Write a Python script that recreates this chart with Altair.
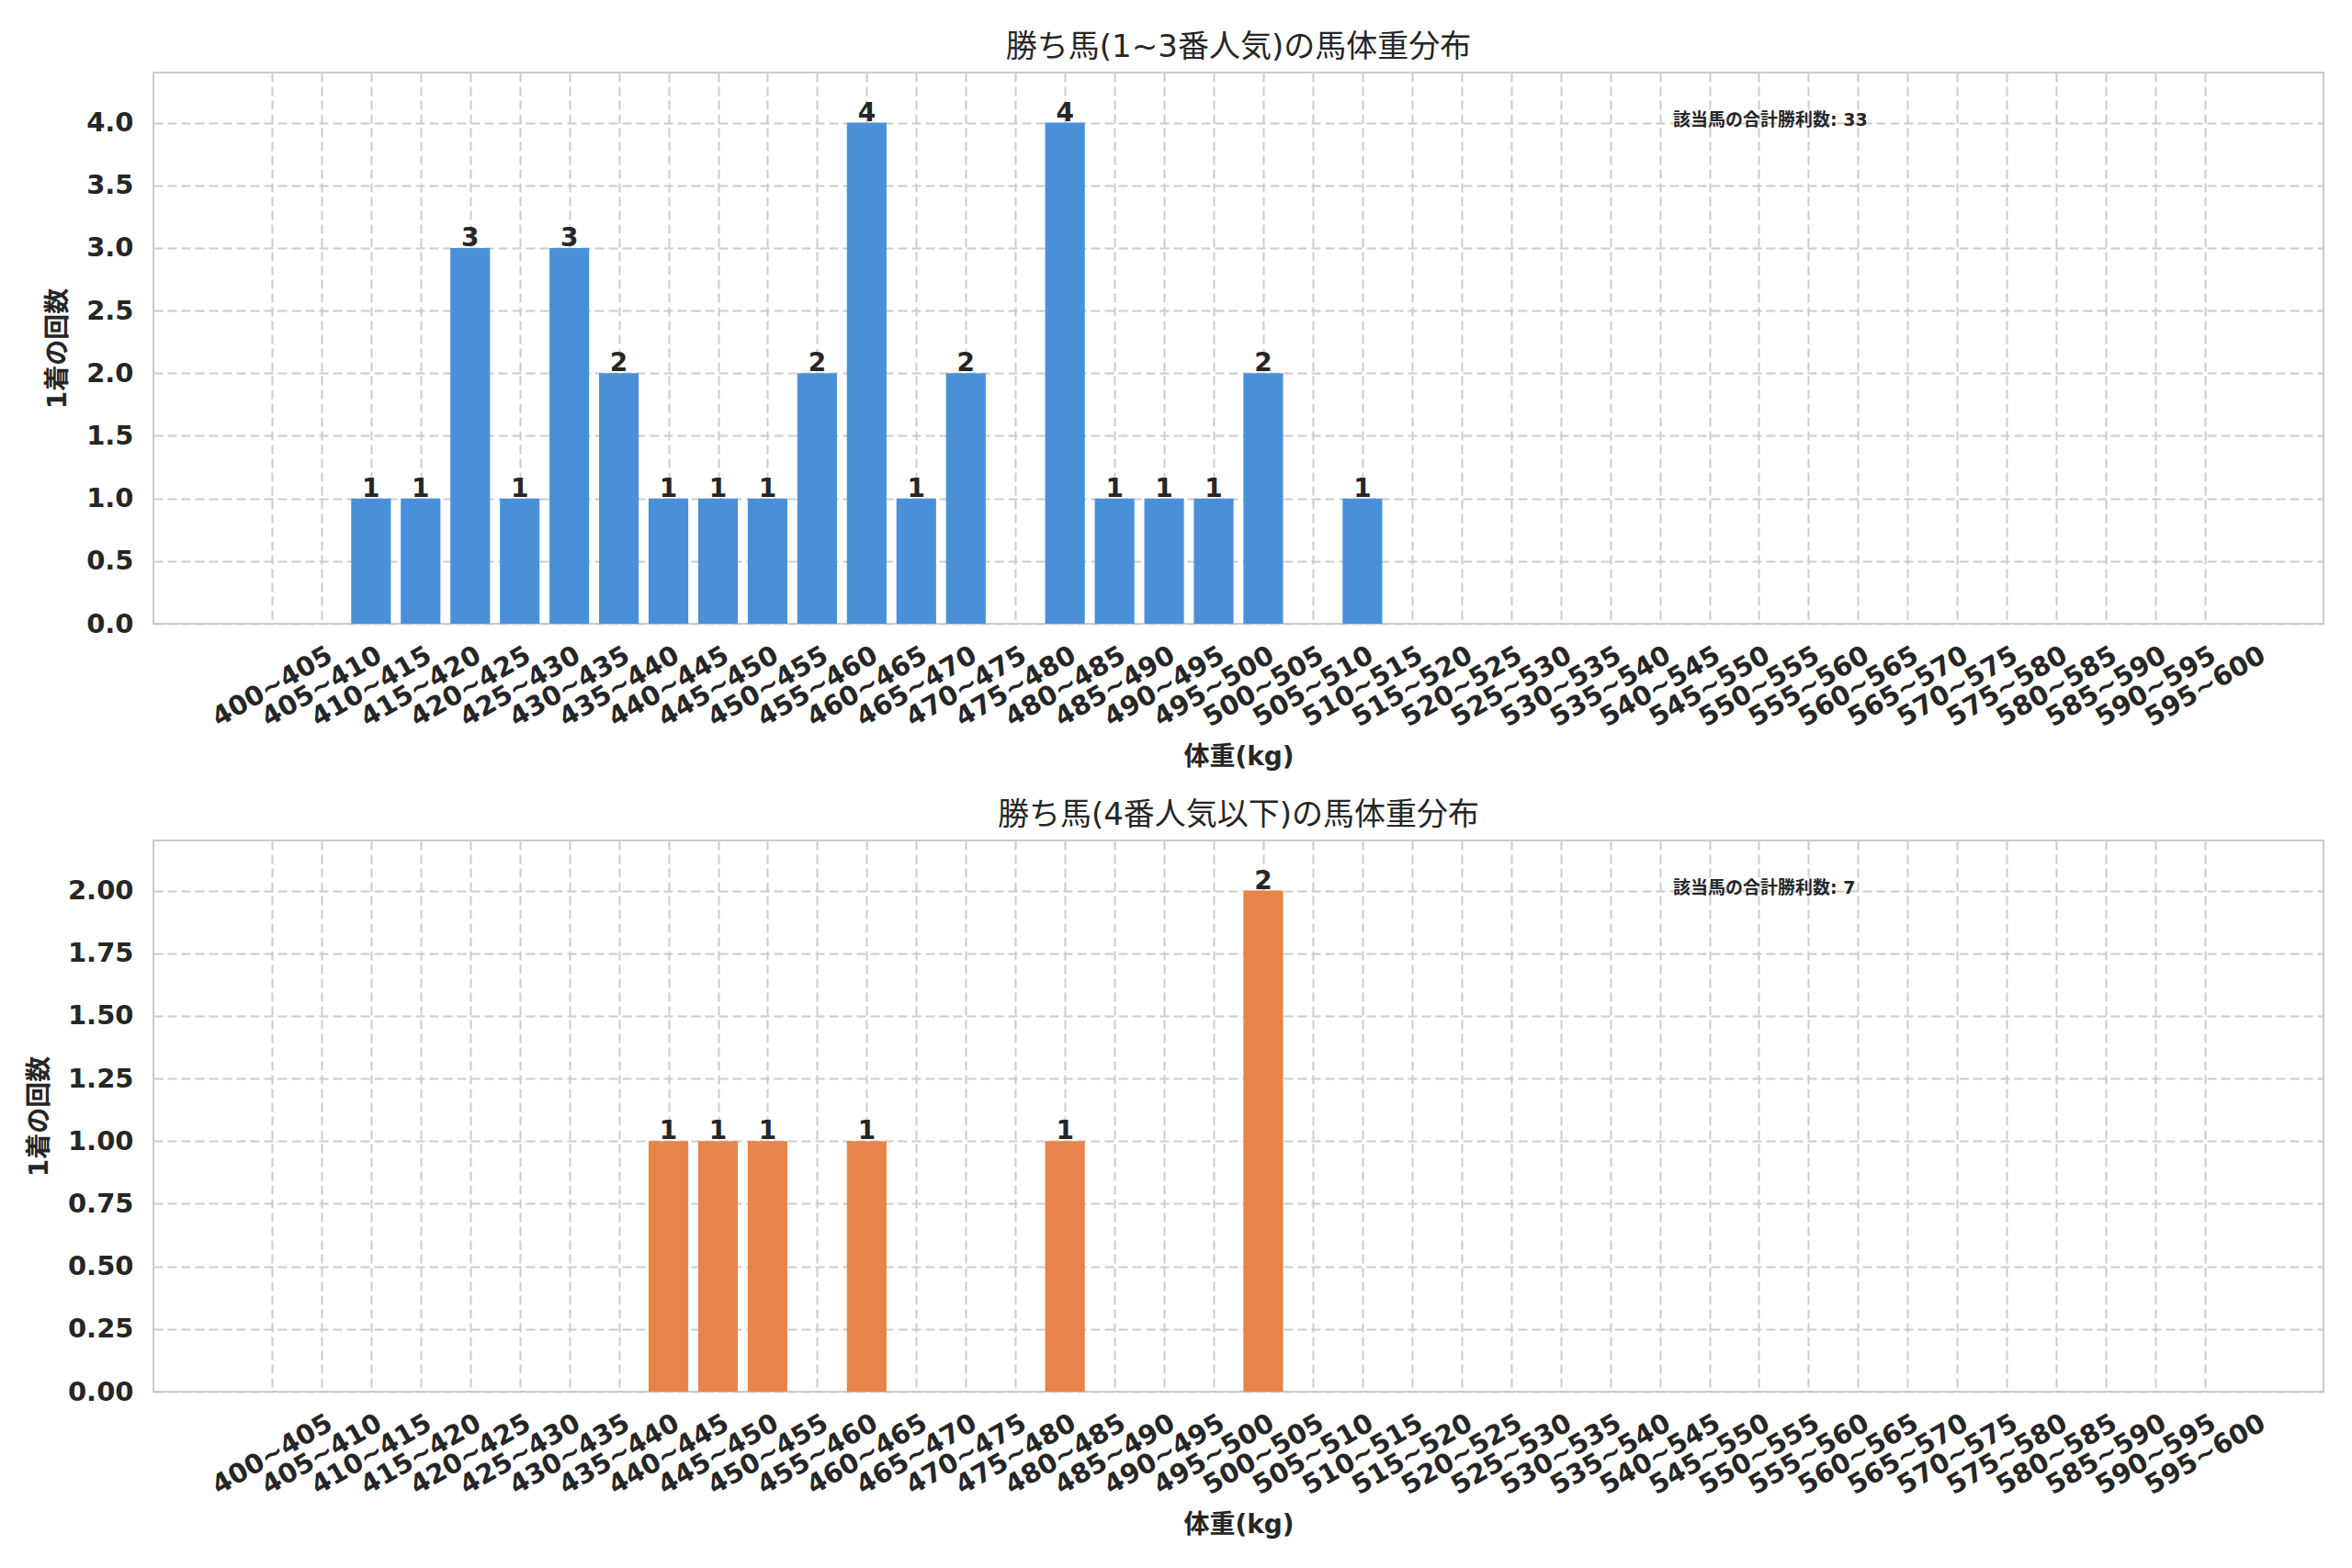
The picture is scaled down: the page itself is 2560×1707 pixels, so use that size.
import altair as alt
import pandas as pd

bins = ["400~405", "405~410", "410~415", "415~420", "420~425", "425~430", "430~435", "435~440",
        "440~445", "445~450", "450~455", "455~460", "460~465", "465~470", "470~475", "475~480",
        "480~485", "485~490", "490~495", "495~500", "500~505", "505~510", "510~515", "515~520",
        "520~525", "525~530", "530~535", "535~540", "540~545", "545~550", "550~555", "555~560",
        "560~565", "565~570", "570~575", "575~580", "580~585", "585~590", "590~595", "595~600"]

top_counts = [0, 0, 1, 1, 3, 1, 3, 2, 1, 1, 1, 2, 4, 1, 2, 0, 4, 1, 1, 1, 2, 0, 1, 0,
              0, 0, 0, 0, 0, 0, 0, 0, 0, 0, 0, 0, 0, 0, 0, 0]
bottom_counts = [0, 0, 0, 0, 0, 0, 0, 0, 1, 1, 1, 0, 1, 0, 0, 0, 1, 0, 0, 0, 2, 0, 0, 0,
                 0, 0, 0, 0, 0, 0, 0, 0, 0, 0, 0, 0, 0, 0, 0, 0]

top_title = "勝ち馬(1~3番人気)の馬体重分布"
bottom_title = "勝ち馬(4番人気以下)の馬体重分布"
x_title = "体重(kg)"
y_title = "1着の回数"
total_text = "該当馬の合計勝利数"

top_yticks = [0.0, 0.5, 1.0, 1.5, 2.0, 2.5, 3.0, 3.5, 4.0]
bottom_yticks = [0.0, 0.25, 0.5, 0.75, 1.0, 1.25, 1.5, 1.75, 2.0]

TEXT = "#262626"
FONT = "DejaVu Sans, Noto Sans CJK JP"
W, H = 2362, 600

label_expr = "[" + ",".join("'" + b + "'" for b in bins) + "][datum.value]"


def panel(counts, color, title, yticks, fmt):
    n = len(bins)
    ymax = max(counts) * 1.1
    df = pd.DataFrame({"idx": list(range(n)), "bin": bins, "count": counts})
    df["x0"] = df["idx"] - 0.4
    df["x1"] = df["idx"] + 0.4
    df["base"] = 0
    xscale = alt.Scale(domain=[-2.39, n - 1 + 2.39], nice=False, zero=False)
    yscale = alt.Scale(domain=[0, ymax], nice=False)
    xaxis = alt.Axis(values=list(range(n)), labelExpr=label_expr, labelAngle=-30,
                     labelAlign="center", labelBaseline="middle", labelPadding=68,
                     tickSize=0, ticks=False, domain=False, title=x_title, titlePadding=14,
                     labelOverlap=False, labelBound=False)
    yaxis = alt.Axis(values=yticks, format=fmt, title=y_title, ticks=False, tickSize=0,
                     domain=False, labelPadding=22, titlePadding=16)
    bars = alt.Chart(df).mark_bar(color=color).encode(
        x=alt.X("x0:Q", scale=xscale, axis=xaxis),
        x2="x1:Q",
        y=alt.Y("count:Q", scale=yscale, axis=yaxis),
        y2="base:Q",
    )
    labels = alt.Chart(df[df["count"] > 0]).mark_text(
        fontSize=28, fontWeight="bold", color=TEXT, baseline="alphabetic", dy=-2
    ).encode(x=alt.X("idx:Q", scale=xscale), y=alt.Y("count:Q", scale=yscale), text="count:Q")
    ann_df = pd.DataFrame({"t": [f"{total_text}: {sum(counts)}"]})
    ann = alt.Chart(ann_df).mark_text(
        align="left", baseline="middle", fontSize=19, fontWeight="bold", color=TEXT
    ).encode(x=alt.value(1654), y=alt.value(52), text="t:N")
    return alt.layer(bars, labels, ann).properties(
        width=W, height=H,
        title=alt.TitleParams(title, fontSize=34, fontWeight="normal", color=TEXT, offset=10),
    )


top = panel(top_counts, "#4a90d9", top_title, top_yticks, ".1f")
bottom = panel(bottom_counts, "#e8844a", bottom_title, bottom_yticks, ".2f")

chart = alt.vconcat(top, bottom, spacing=30).properties(
    padding={"left": 20, "top": 26, "right": 5, "bottom": 5},
    background="white",
).configure(font=FONT).configure_axis(
    labelFont=FONT, titleFont=FONT, labelFontSize=29, titleFontSize=28,
    labelFontWeight="bold", titleFontWeight="bold", labelColor=TEXT, titleColor=TEXT,
    grid=True, gridColor="#cccccc", gridDash=[10, 5], gridWidth=2,
).configure_view(stroke="#cccccc", strokeWidth=2).configure_title(font=FONT, anchor="middle")

chart.save("out.html", embed_options={"renderer": "svg", "actions": False})
